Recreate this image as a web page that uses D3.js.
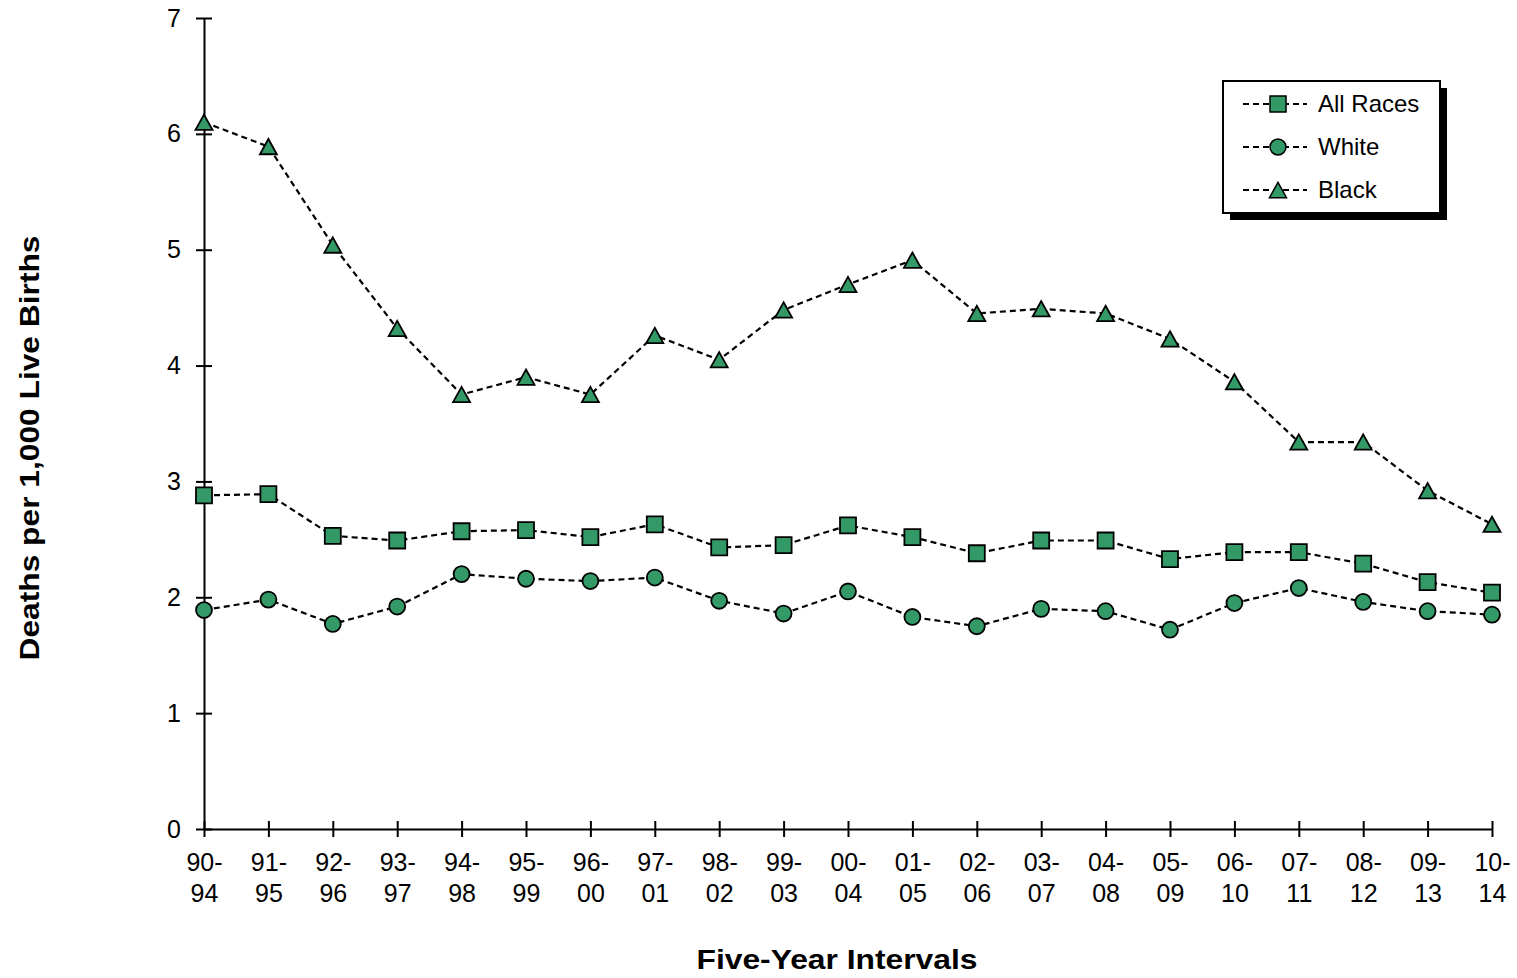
<!DOCTYPE html>
<html><head><meta charset="utf-8">
<script src="https://cdn.jsdelivr.net/npm/d3@7"></script>
<style>
html,body{margin:0;padding:0;background:#fff;}
svg{display:block;font-family:"Liberation Sans",Arial,sans-serif;}
</style></head>
<body>
<script>
const categories = ["90-94","91-95","92-96","93-97","94-98","95-99","96-00","97-01","98-02","99-03","00-04","01-05","02-06","03-07","04-08","05-09","06-10","07-11","08-12","09-13","10-14"];
const allRaces = [2.88,2.89,2.53,2.49,2.57,2.58,2.52,2.63,2.43,2.45,2.62,2.52,2.38,2.49,2.49,2.33,2.39,2.39,2.29,2.13,2.04];
const white    = [1.89,1.98,1.77,1.92,2.20,2.16,2.14,2.17,1.97,1.86,2.05,1.83,1.75,1.90,1.88,1.72,1.95,2.08,1.96,1.88,1.85];
const black    = [6.10,5.89,5.04,4.32,3.75,3.90,3.75,4.26,4.05,4.48,4.70,4.91,4.45,4.49,4.45,4.23,3.86,3.34,3.34,2.92,2.63];
const yTicks = [0,1,2,3,4,5,6,7];
const seriesNames = ["All Races","White","Black"];
const yTitle = "Deaths per 1,000 Live Births";
const xTitle = "Five-Year Intervals";

const W = 1517, H = 978;
const fill = "#339966";
const svg = d3.select("body").append("svg").attr("width", W).attr("height", H);

const x = d3.scalePoint().domain(categories).range([204, 1492]);
const y = d3.scaleLinear().domain([0, 7]).range([829, 18]);

// axes
const yAxis = d3.axisLeft(y).tickValues(yTicks).tickFormat(d3.format("d"))
  .tickSizeInner(8).tickSizeOuter(0).tickPadding(15);
const gy = svg.append("g").attr("transform", "translate(204,0)").call(yAxis);
gy.select(".domain").attr("stroke", "#000").attr("stroke-width", 2);
gy.selectAll(".tick line").attr("x1", 8).attr("x2", -8).attr("stroke", "#000").attr("stroke-width", 2);
gy.selectAll(".tick text").attr("font-size", 25).attr("fill", "#000").attr("font-family", "Liberation Sans, Arial, sans-serif");

const xAxis = d3.axisBottom(x).tickSizeInner(8).tickSizeOuter(0).tickFormat("");
const gx = svg.append("g").attr("transform", "translate(0,829)").call(xAxis);
gx.select(".domain").attr("stroke", "#000").attr("stroke-width", 2);
gx.selectAll(".tick line").attr("y1", -8).attr("y2", 8).attr("stroke", "#000").attr("stroke-width", 2);
gx.selectAll(".tick").each(function(d) {
  const parts = d.split("-");
  const t = d3.select(this).append("text").attr("text-anchor", "middle")
    .attr("font-size", 25).attr("fill", "#000").attr("font-family", "Liberation Sans, Arial, sans-serif");
  t.append("tspan").attr("x", 0).attr("y", 42).text(parts[0] + "-");
  t.append("tspan").attr("x", 0).attr("y", 73).text(parts[1]);
});

// titles
svg.append("text").attr("x", 837).attr("y", 969).attr("text-anchor", "middle")
  .attr("font-size", 27).attr("font-weight", "bold").attr("textLength", 281).attr("lengthAdjust", "spacingAndGlyphs")
  .text(xTitle);
svg.append("text").attr("transform", "translate(39,448) rotate(-90)").attr("text-anchor", "middle")
  .attr("font-size", 27).attr("font-weight", "bold").attr("textLength", 425).attr("lengthAdjust", "spacingAndGlyphs")
  .text(yTitle);

// marker shapes
const sym = {
  "All Races": d3.symbol().type(d3.symbolSquare).size(256),
  "White": d3.symbol().type(d3.symbolCircle).size(200)
};
function triPath(s) { const h = s * 0.9; return `M0,${-h/2}L${s/2},${h/2}L${-s/2},${h/2}Z`; }
function markerPath(name) {
  if (name === "Black") return triPath(17);
  return sym[name]();
}

const seriesData = [
  {name: "All Races", values: allRaces},
  {name: "White", values: white},
  {name: "Black", values: black}
];
const line = d3.line().x((d, i) => x(categories[i])).y(d => y(d));

seriesData.forEach(s => {
  const g = svg.append("g");
  g.append("path").attr("d", line(s.values)).attr("fill", "none")
    .attr("stroke", "#000").attr("stroke-width", 2.2).attr("stroke-dasharray", "6,4");
  g.selectAll("path.m").data(s.values).enter().append("path").attr("class", "m")
    .attr("transform", (d, i) => `translate(${x(categories[i])},${y(d)})`)
    .attr("d", markerPath(s.name))
    .attr("fill", fill).attr("stroke", "#000").attr("stroke-width", 1.8);
});

// legend
const lg = svg.append("g");
lg.append("rect").attr("x", 1230).attr("y", 88).attr("width", 217).attr("height", 132).attr("fill", "#000");
lg.append("rect").attr("x", 1223).attr("y", 81).attr("width", 217).attr("height", 132)
  .attr("fill", "#fff").attr("stroke", "#000").attr("stroke-width", 2);
const rowY = d3.scalePoint().domain(seriesNames).range([104, 190]);
seriesNames.forEach(n => {
  const yy = rowY(n);
  lg.append("line").attr("x1", 1243).attr("x2", 1307).attr("y1", yy).attr("y2", yy)
    .attr("stroke", "#000").attr("stroke-width", 2.2).attr("stroke-dasharray", "6,4");
  lg.append("path").attr("transform", `translate(1278,${yy})`).attr("d", markerPath(n))
    .attr("fill", fill).attr("stroke", "#000").attr("stroke-width", 1.5);
  lg.append("text").attr("x", 1318).attr("y", yy + 8).attr("font-size", 24).text(n);
});
</script>
</body></html>
